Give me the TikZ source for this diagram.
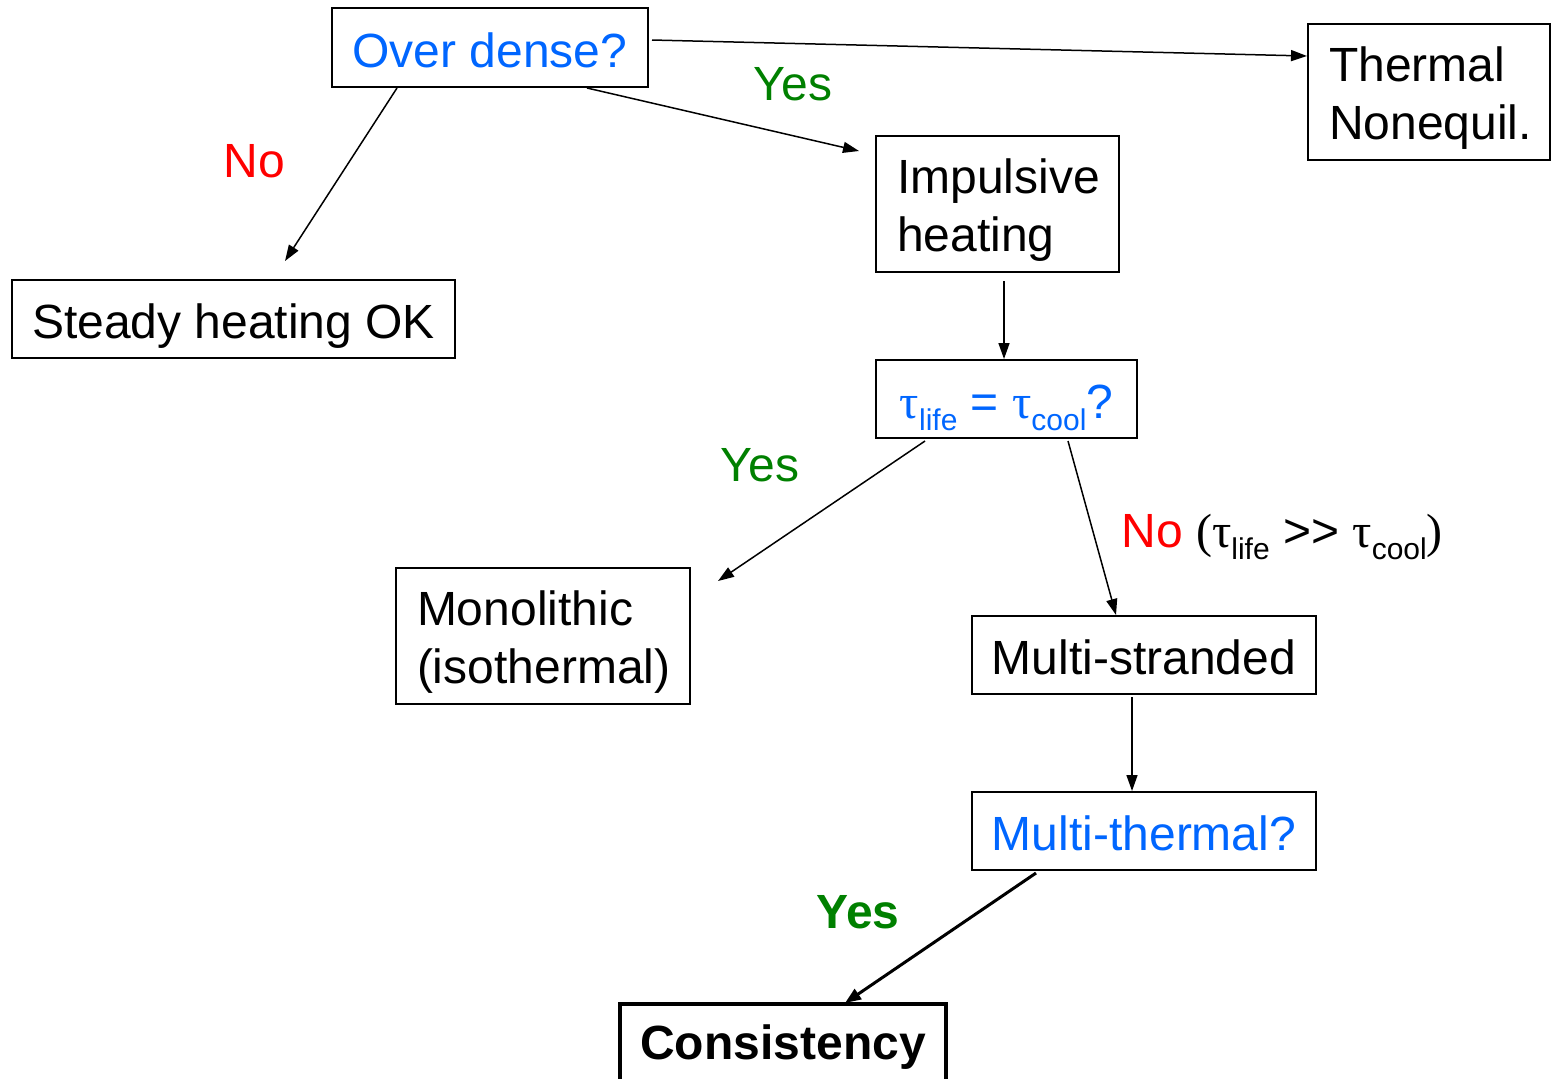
\documentclass[tikz,border=0pt]{standalone}
\usepackage{fontspec}
\setmainfont{Liberation Sans}
\newfontfamily\seriffont{Liberation Serif}
\usetikzlibrary{arrows.meta}
\definecolor{qblue}{RGB}{0,102,255}
\definecolor{ygreen}{RGB}{0,128,0}
\definecolor{nred}{RGB}{255,0,0}
\newcommand\tausym{{\seriffont τ}}
\newcommand\subtxt[1]{\raisebox{-6pt}{\fontsize{15}{15}\selectfont #1}}
\begin{document}
\begin{tikzpicture}[x=0.5pt,y=-0.5pt,
  every node/.style={font=\fontsize{24}{29}\selectfont},
  box/.style={draw, line width=1pt, rectangle, inner sep=0pt, text height=19.5pt, text depth=0pt},
  twobox/.style={draw, line width=1pt, rectangle, inner xsep=10.5pt, inner ysep=0pt, align=left, text height=18pt, text depth=28.5pt},
  lbl/.style={anchor=base, inner sep=0pt},
  arr/.style={-{Triangle[length=8pt,width=5.5pt]}, line width=0.75pt},
  thickarr/.style={-{Triangle[length=8pt,width=6pt]}, line width=1.5pt}]
\useasboundingbox (0,0) rectangle (1551,1078);

% boxes
\node[box, minimum width=158pt, minimum height=39.5pt, text=qblue] (od) at (490,47.5) {Over dense?};
\node[twobox, text width=99.75pt, minimum height=68pt] (th) at (1428.75,92) {Thermal\\Nonequil.};
\node[twobox, text width=100.5pt, minimum height=68pt] (imp) at (997.5,204) {Impulsive\\heating};
\node[box, minimum width=221.5pt, minimum height=39pt] (st) at (233.5,319) {Steady heating OK};
\node[box, minimum width=130.5pt, minimum height=39pt, text=qblue] (tau) at (1006.5,399)
  {\tausym\subtxt{life} = \tausym\subtxt{cool}?};
\node[twobox, text width=126pt, minimum height=68pt] (mono) at (543,636) {Monolithic\\(isothermal)};
\node[box, minimum width=172pt, minimum height=39pt] (ms) at (1144,655) {Multi-stranded};
\node[box, minimum width=172pt, minimum height=39pt, text=qblue] (mt) at (1144,831) {Multi-thermal?};
\node[box, line width=2pt, minimum width=163pt, minimum height=42pt, text height=19.5pt, text depth=6.5pt,
  anchor=north, font=\fontsize{24}{29}\selectfont\bfseries] (cons) at (783,1002) {Consistency};

% labels
\node[lbl, text=ygreen] (y1) at (793,100) {Yes};
\node[lbl, text=nred] (n1) at (254.5,177) {No};
\node[lbl, text=ygreen] (y2) at (760,481) {Yes};
\node[lbl, anchor=base west] (n2) at (1121,547)
  {\textcolor{nred}{No} {\seriffont(}\tausym\subtxt{life} >{}> \tausym\subtxt{cool}{\seriffont)}};
\node[lbl, text=ygreen, font=\fontsize{24}{29}\selectfont\bfseries] (y3) at (858,928) {Yes};

% connectors
\draw[arr] ([xshift=1.5pt,yshift=3.75pt]od.east) -- ([yshift=18pt]th.west);
\draw[arr] ([xshift=48.5pt]od.south) -- ([xshift=-8pt,yshift=-8pt]imp.north west);
\draw[arr] ([xshift=-46.5pt]od.south) -- ([xshift=25.75pt,yshift=9pt]st.north);
\draw[arr] ([xshift=3.25pt,yshift=-4pt]imp.south) -- ([xshift=-1.25pt]tau.north);
\draw[arr] ([xshift=-40.75pt,yshift=-1pt]tau.south) -- ([xshift=13.5pt,yshift=-7pt]mono.north east);
\draw[arr] ([xshift=30.75pt,yshift=-1pt]tau.south) -- ([xshift=-14pt]ms.north);
\draw[arr] ([xshift=-6pt,yshift=-1pt]ms.south) -- ([xshift=-6pt]mt.north);
\draw[thickarr] ([xshift=-54pt,yshift=-1pt]mt.south) -- ([xshift=31pt,yshift=-0.5pt]cons.north);
\end{tikzpicture}
\end{document}
